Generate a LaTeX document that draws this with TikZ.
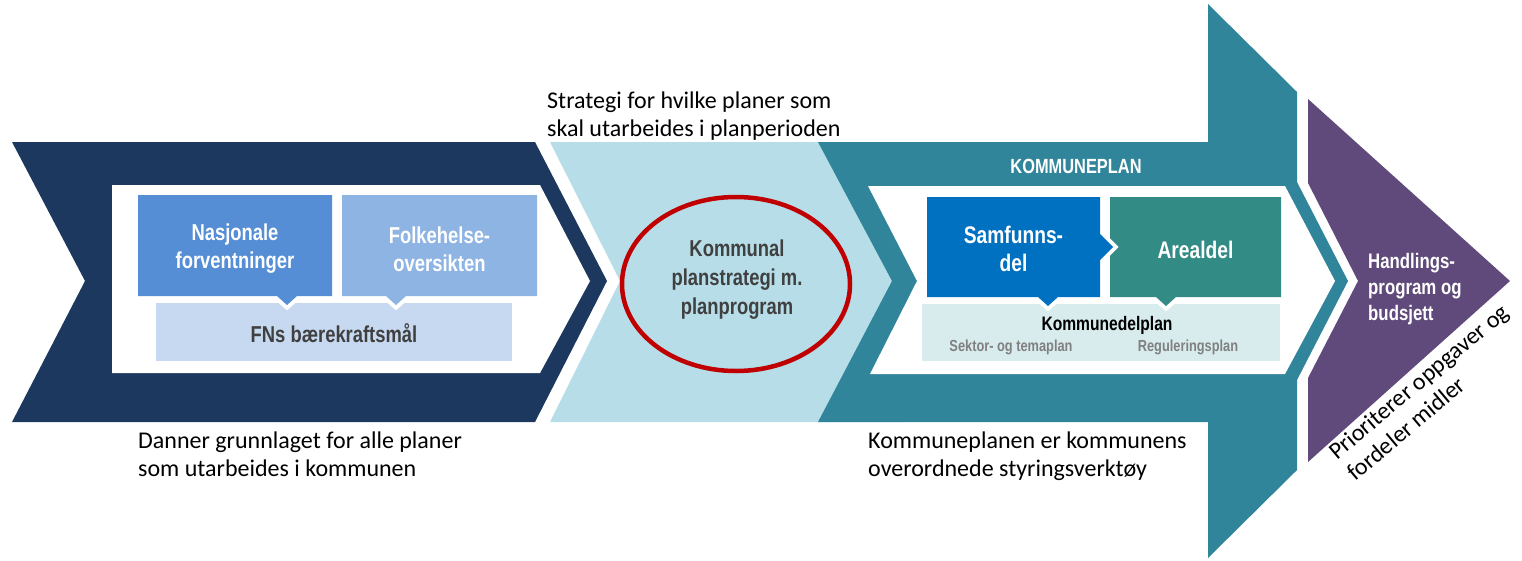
\documentclass[tikz,border=0pt]{standalone}
\usepackage{fontspec}
\setmainfont{Carlito}
\newfontfamily\condfont[FakeStretch=0.8]{Liberation Sans}
\usetikzlibrary{shapes.geometric,shadows}
\definecolor{navy}{RGB}{28,56,94}
\definecolor{nasc}{RGB}{85,142,213}
\definecolor{folkc}{RGB}{142,180,227}
\definecolor{fnsc}{RGB}{198,217,240}
\definecolor{lblue}{RGB}{183,222,232}
\definecolor{tealc}{RGB}{49,133,155}
\definecolor{samfc}{RGB}{0,112,192}
\definecolor{arealc}{RGB}{50,140,133}
\definecolor{kdpc}{RGB}{216,236,238}
\definecolor{purp}{RGB}{96,74,123}
\definecolor{ringred}{RGB}{192,0,0}
\definecolor{darktext}{RGB}{64,64,64}
\definecolor{graytext}{RGB}{128,128,128}
\tikzset{
  halo/.style={draw=white, line width=8pt, line join=miter},
  boxtext/.style={font=\condfont\bfseries\fontsize{23}{28}\selectfont, text=white, align=center, inner sep=0pt},
  note/.style={font=\fontsize{24}{28}\selectfont, text=black, align=left, inner sep=0pt, anchor=base west}
}
\begin{document}
\begin{tikzpicture}[x=1pt,y=-1pt]
\useasboundingbox (0,0) rectangle (1522,560);
% navy chevron
\fill[navy] (12,142) -- (535,142) -- (607,281) -- (535,422) -- (12,422) -- (85,281) -- cycle;
\fill[white] (112,185) -- (540,185) -- (590,281) -- (540,373) -- (112,373) -- cycle;
\fill[fnsc] (156,303) rectangle (512,361);
\path[halo] (138,195) -- (332,195) -- (332,296) -- (297,296) -- (287,305) -- (277,296) -- (138,296) -- cycle;
\fill[nasc] (138,195) -- (332,195) -- (332,296) -- (297,296) -- (287,305) -- (277,296) -- (138,296) -- cycle;
\path[halo] (342,195) -- (537,195) -- (537,296) -- (406,296) -- (396,305) -- (386,296) -- (342,296) -- cycle;
\fill[folkc] (342,195) -- (537,195) -- (537,296) -- (406,296) -- (396,305) -- (386,296) -- (342,296) -- cycle;
% light blue chevron
\fill[lblue] (550,142) -- (905,142) -- (905,422) -- (550,422) -- (620,281) -- cycle;
\node (ring) [ellipse, draw=ringred, line width=4.5pt, fill=lblue, minimum width=228pt, minimum height=174pt,
  drop shadow={opacity=0.3, shadow xshift=2pt, shadow yshift=-2pt}] at (736,284) {};
% teal arrow
\fill[tealc] (818,142) -- (1208,142) -- (1208,4) -- (1297,92) -- (1297,182) -- (1348,281) -- (1297,380)
  -- (1297,470) -- (1208,558) -- (1208,422) -- (818,422) -- (892,281) -- cycle;
\fill[white] (868,186) -- (1285,186) -- (1335,281) -- (1285,374) -- (870,374) -- (917,281) -- cycle;
\fill[kdpc] (922,304) rectangle (1280,361);
\path[halo] (1110,197) -- (1281,197) -- (1281,297) -- (1176,297) -- (1166,306) -- (1156,297) -- (1110,297) -- cycle;
\fill[arealc] (1110,197) -- (1281,197) -- (1281,297) -- (1176,297) -- (1166,306) -- (1156,297) -- (1110,297) -- cycle;
\path[halo] (927,197) -- (1100,197) -- (1100,234) -- (1113,247) -- (1100,260) -- (1100,297) -- (1058,297) -- (1048,306) -- (1038,297) -- (927,297) -- cycle;
\fill[samfc] (927,197) -- (1100,197) -- (1100,234) -- (1113,247) -- (1100,260) -- (1100,297) -- (1058,297) -- (1048,306) -- (1038,297) -- (927,297) -- cycle;
% purple chevron
\fill[purp] (1308,99) -- (1510,281) -- (1308,462) -- (1308,378) -- (1358,281) -- (1308,183) -- cycle;
% texts
\node[boxtext] (nas) at (235,249) {Nasjonale\\forventninger};
\node[boxtext] (folk) at (439.5,249) {Folkehelse-\\oversikten};
\node[boxtext, text=darktext] (fns) at (334,333) {FNs bærekraftsmål};
\node[boxtext, text=darktext, font=\condfont\bfseries\fontsize{23}{29}\selectfont] (kp) at (737,280) {Kommunal\\planstrategi m.\\planprogram};
\node[boxtext, font=\condfont\bfseries\fontsize{20.5}{24}\selectfont] (kplan) at (1076,166) {KOMMUNEPLAN};
\node[boxtext, font=\condfont\bfseries\fontsize{24}{28}\selectfont] (samf) at (1013.5,249) {Samfunns-\\del};
\node[boxtext, font=\condfont\bfseries\fontsize{24}{28}\selectfont] (areal) at (1195.5,250) {Arealdel};
\node[boxtext, text=black, font=\condfont\bfseries\fontsize{19.5}{22}\selectfont] (kdp) at (1107,325) {Kommunedelplan};
\node[boxtext, text=graytext, font=\condfont\bfseries\fontsize{16}{18}\selectfont] (sektor) at (1011,347) {Sektor- og temaplan};
\node[boxtext, text=graytext, font=\condfont\bfseries\fontsize{16}{18}\selectfont] (regul) at (1188,347) {Reguleringsplan};
\node[boxtext, align=left, anchor=west, font=\condfont\bfseries\fontsize{21}{26}\selectfont] (handl) at (1368,289) {Handlings-\\program og\\budsjett};
\node[note] (strat) at (547,136) {Strategi for hvilke planer som\\skal utarbeides i planperioden};
\node[note] (danner) at (138,476) {Danner grunnlaget for alle planer\\som utarbeides i kommunen};
\node[note] (kpnote) at (868,476) {Kommuneplanen er kommunens\\overordnede styringsverktøy};
\node[note, rotate=40] (prior) at (1355,482) {Prioriterer oppgaver og\\fordeler midler};
\end{tikzpicture}
\end{document}
